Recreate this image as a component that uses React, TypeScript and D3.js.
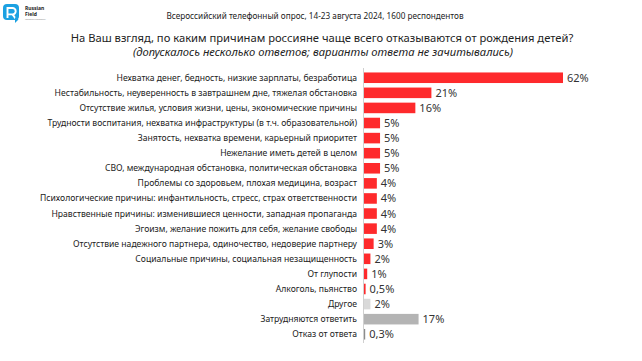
import React from "react";
import * as d3 from "d3";

const categories: string[] = [
  "Нехватка денег, бедность, низкие зарплаты, безработица",
  "Нестабильность, неуверенность в завтрашнем дне, тяжелая обстановка",
  "Отсутствие жилья, условия жизни, цены, экономические причины",
  "Трудности воспитания, нехватка инфраструктуры (в т.ч. образовательной)",
  "Занятость, нехватка времени, карьерный приоритет",
  "Нежелание иметь детей в целом",
  "СВО, международная обстановка, политическая обстановка",
  "Проблемы со здоровьем, плохая медицина, возраст",
  "Психологические причины: инфантильность, стресс, страх ответственности",
  "Нравственные причины: изменившиеся ценности, западная пропаганда",
  "Эгоизм, желание пожить для себя, желание свободы",
  "Отсутствие надежного партнера, одиночество, недоверие партнеру",
  "Социальные причины, социальная незащищенность",
  "От глупости",
  "Алкоголь, пьянство",
  "Другое",
  "Затрудняются ответить",
  "Отказ от ответа",
];
const values: number[] = [62, 21, 16, 5, 5, 5, 5, 4, 4, 4, 4, 3, 2, 1, 0.5, 2, 17, 0.3];
const valueLabels: string[] = ["62%", "21%", "16%", "5%", "5%", "5%", "5%", "4%", "4%", "4%", "4%", "3%", "2%", "1%", "0,5%", "2%", "17%", "0,3%"];
const kinds: string[] = ["r","r","r","r","r","r","r","r","r","r","r","r","r","r","r","other","hard","refuse"];

const subtitle = "Всероссийский телефонный опрос, 14-23 августа 2024, 1600 респондентов";
const title = "На Ваш взгляд, по каким причинам россияне чаще всего отказываются от рождения детей?";
const titleNote = "(допускалось несколько ответов; варианты ответа не зачитывались)";

const colorOf: Record<string, string> = {
  r: "#fe2a2c",
  other: "#d9d9d9",
  hard: "#b4b4b4",
  refuse: "#8c8c8c",
};

export default function App() {
  const W = 642, H = 361;
  const x0 = 364;
  const x = d3.scaleLinear().domain([0, 62]).range([x0, 563]);
  const y = d3.scaleBand<string>().domain(categories).range([70.2, 341.8]).paddingInner(0.3).paddingOuter(0.15);
  const font = "'Noto Sans', 'Open Sans', sans-serif";
  return (
    <svg width={W} height={H} style={{ position: "absolute", left: 0, top: 0, background: "#fff" }}>
      <rect width={W} height={H} fill="#fff" />
      {/* logo */}
      <g>
        <rect x={3} y={4} width={16} height={16} rx={4} fill="#1ba1e2" />
        <path d="M7.5 8 h5 a3.2 3.2 0 0 1 0 6.4 h-5 z M7.5 14.4 v3.6" stroke="#fff" strokeWidth={1.9} fill="none" />
        <path d="M12.5 14.4 l3.2 4.4" stroke="#fff" strokeWidth={1.9} />
        <path d="M15 17 l0 6 l3.5 -3.5 z" fill="#1ba1e2" />
        <text x={25} y={10} fontFamily={font} fontSize={5} fontWeight="bold" fill="#222">Russian</text>
        <text x={25} y={15.5} fontFamily={font} fontSize={5} fontWeight="bold" fill="#222">Field</text>
        <text x={25} y={19.5} fontFamily={font} fontSize={2.4} fill="#888">research company</text>
      </g>
      <text x={315} y={19} textAnchor="middle" fontFamily={font} fontSize={8.2} fill="#222">{subtitle}</text>
      <text x={322} y={42} textAnchor="middle" fontFamily={font} fontSize={11.2} fill="#222">{title}</text>
      <text x={323} y={56} textAnchor="middle" fontFamily={font} fontSize={11.2} fontStyle="italic" fill="#222">{titleNote}</text>
      <line x1={x0 - 0.5} x2={x0 - 0.5} y1={68} y2={343} stroke="#d0d0d0" strokeWidth={1} />
      {categories.map((c, i) => {
        const yy = y(c)!;
        const bw = y.bandwidth();
        const w = Math.max(x(values[i]) - x0, 1.2);
        return (
          <g key={c}>
            <text x={357} y={yy + bw / 2} dy="0.35em" textAnchor="end" fontFamily={font} fontSize={8.6} fill="#222">{c}</text>
            <rect x={x0} y={yy} width={w} height={bw} fill={colorOf[kinds[i]]} />
            <text x={x0 + w + 4} y={yy + bw / 2} dy="0.36em" fontFamily={font} fontSize={11} fill="#333">{valueLabels[i]}</text>
          </g>
        );
      })}
    </svg>
  );
}
